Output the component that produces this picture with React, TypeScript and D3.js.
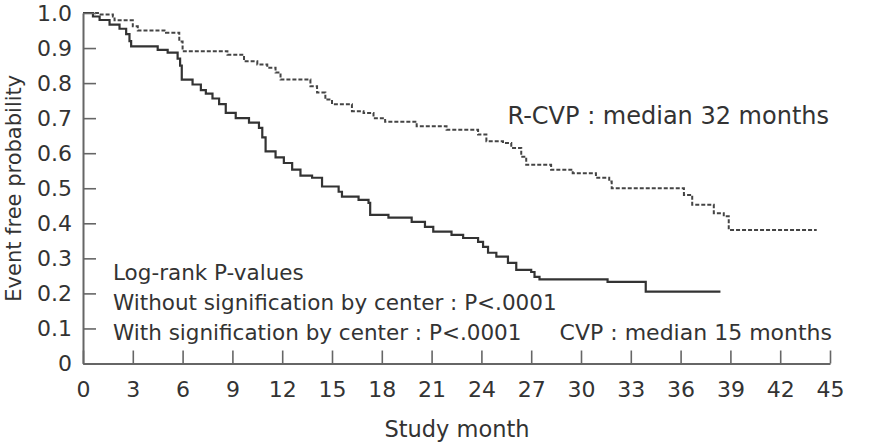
import { useEffect, useRef } from 'react';
import * as d3 from 'd3';

// Kaplan–Meier steps: time (months) at which survival drops to the given value
const cvpTimes = [0, 0.6, 1.0, 1.6, 2.2, 2.6, 2.8, 2.9, 4.5, 5.1, 5.7, 5.85, 5.95, 6.6, 7.1, 7.4, 7.8, 8.2, 8.6, 9.2, 10.0, 10.6, 10.8, 11.0, 11.6, 12.1, 12.6, 13.1, 13.8, 14.4, 15.4, 15.6, 16.6, 17.2, 17.3, 18.4, 19.8, 20.6, 21.1, 22.2, 22.9, 23.8, 24.1, 24.4, 24.9, 25.6, 26.1, 27.0, 27.2, 27.5, 31.6, 33.9];
const cvpSurvival = [1.0, 0.99, 0.98, 0.967, 0.955, 0.94, 0.92, 0.905, 0.895, 0.887, 0.87, 0.85, 0.81, 0.796, 0.78, 0.77, 0.756, 0.74, 0.715, 0.7, 0.687, 0.672, 0.645, 0.605, 0.588, 0.572, 0.553, 0.536, 0.53, 0.505, 0.49, 0.476, 0.467, 0.458, 0.424, 0.416, 0.404, 0.39, 0.376, 0.367, 0.358, 0.347, 0.333, 0.316, 0.305, 0.287, 0.267, 0.261, 0.247, 0.24, 0.233, 0.205];
const cvpLastFollowUp = 38.4;

const rcvpTimes = [0, 0.9, 1.8, 1.9, 3.0, 3.3, 5.0, 5.8, 6.0, 8.7, 9.7, 10.5, 11.1, 11.6, 11.9, 13.7, 14.1, 14.6, 15.0, 16.2, 16.9, 17.5, 18.2, 20.1, 21.9, 23.8, 24.3, 25.3, 25.8, 26.4, 26.7, 28.2, 29.5, 30.9, 31.7, 31.85, 36.2, 36.7, 38.0, 38.6, 38.9];
const rcvpSurvival = [1.0, 0.996, 0.99, 0.979, 0.962, 0.95, 0.944, 0.919, 0.891, 0.881, 0.862, 0.853, 0.844, 0.83, 0.81, 0.791, 0.773, 0.753, 0.74, 0.72, 0.715, 0.7, 0.69, 0.677, 0.667, 0.653, 0.634, 0.629, 0.615, 0.59, 0.567, 0.553, 0.543, 0.53, 0.519, 0.5, 0.481, 0.453, 0.429, 0.42, 0.381];
const rcvpLastFollowUp = 44.2;

const monthTicks = d3.range(0, 46, 3);
const probTicks = d3.range(0, 11).map((i) => i / 10);

const pValueLines = [
  'Log-rank P-values',
  'Without signification by center : P<.0001',
  'With signification by center : P<.0001',
];

const FONT = '"DejaVu Sans", "Noto Sans", sans-serif';
const INK = '#333';
const AXIS = '#666';

const width = 871;
const height = 446;
const margin = { left: 83, right: 41, top: 13, bottom: 82.5 };

function toSteps(times: number[], surv: number[], end: number): [number, number][] {
  const pts: [number, number][] = times.map((t, i) => [t, surv[i]]);
  pts.push([end, surv[surv.length - 1]]);
  return pts;
}

export default function App() {
  const xAxisRef = useRef<SVGGElement>(null);
  const yAxisRef = useRef<SVGGElement>(null);

  const x = d3.scaleLinear().domain([0, 45]).range([margin.left, width - margin.right]);
  const y = d3.scaleLinear().domain([0, 1]).range([height - margin.bottom, margin.top]);

  const line = d3
    .line<[number, number]>()
    .x((d) => x(d[0]))
    .y((d) => y(d[1]))
    .curve(d3.curveStepAfter);

  const cvpPath = line(toSteps(cvpTimes, cvpSurvival, cvpLastFollowUp)) || '';
  const rcvpPath = line(toSteps(rcvpTimes, rcvpSurvival, rcvpLastFollowUp)) || '';

  useEffect(() => {
    const styleAxis = (g: d3.Selection<SVGGElement, unknown, null, undefined>) => {
      g.select('.domain').attr('stroke', AXIS).attr('stroke-width', 2);
      g.selectAll('.tick line').attr('stroke', AXIS).attr('stroke-width', 1.6);
      g.selectAll('.tick text').attr('fill', INK).attr('font-family', FONT).attr('font-size', 22);
    };

    const xg = d3.select(xAxisRef.current!);
    xg.call(d3.axisBottom(x).tickValues(monthTicks).tickSizeInner(-13).tickSizeOuter(0).tickPadding(18).tickFormat((d) => String(d)));
    styleAxis(xg);

    const yg = d3.select(yAxisRef.current!);
    yg.call(
      d3
        .axisLeft(y)
        .tickValues(probTicks)
        .tickSizeInner(-13)
        .tickSizeOuter(0)
        .tickPadding(11)
        .tickFormat((d) => (+d === 0 ? '0' : (+d).toFixed(1)))
    );
    styleAxis(yg);
  }, []);

  return (
    <svg
      width={width}
      height={height}
      style={{ position: 'absolute', left: 0, top: 0, background: '#fff' }}
    >
      <path d={rcvpPath} fill="none" stroke="#444" strokeWidth={2} strokeDasharray="4 2" />
      <path d={cvpPath} fill="none" stroke="#333" strokeWidth={2.2} />

      <g ref={xAxisRef} transform={`translate(0,${y(0)})`} />
      <g ref={yAxisRef} transform={`translate(${x(0)},0)`} />

      <g fontFamily={FONT} fill={INK}>
        <text x={829} y={124} fontSize={24} textAnchor="end">
          R-CVP : median 32 months
        </text>
        {pValueLines.map((t, i) => (
          <text key={t} x={113} y={280 + i * 30} fontSize={21.5}>
            {t}
          </text>
        ))}
        <text x={832} y={340} fontSize={22} textAnchor="end">
          CVP : median 15 months
        </text>
        <text x={457} y={437} fontSize={22.5} textAnchor="middle">
          Study month
        </text>
        <text
          transform={`translate(21,${y(0.5)}) rotate(-90)`}
          fontSize={21}
          textAnchor="middle"
        >
          Event free probability
        </text>
      </g>
    </svg>
  );
}
